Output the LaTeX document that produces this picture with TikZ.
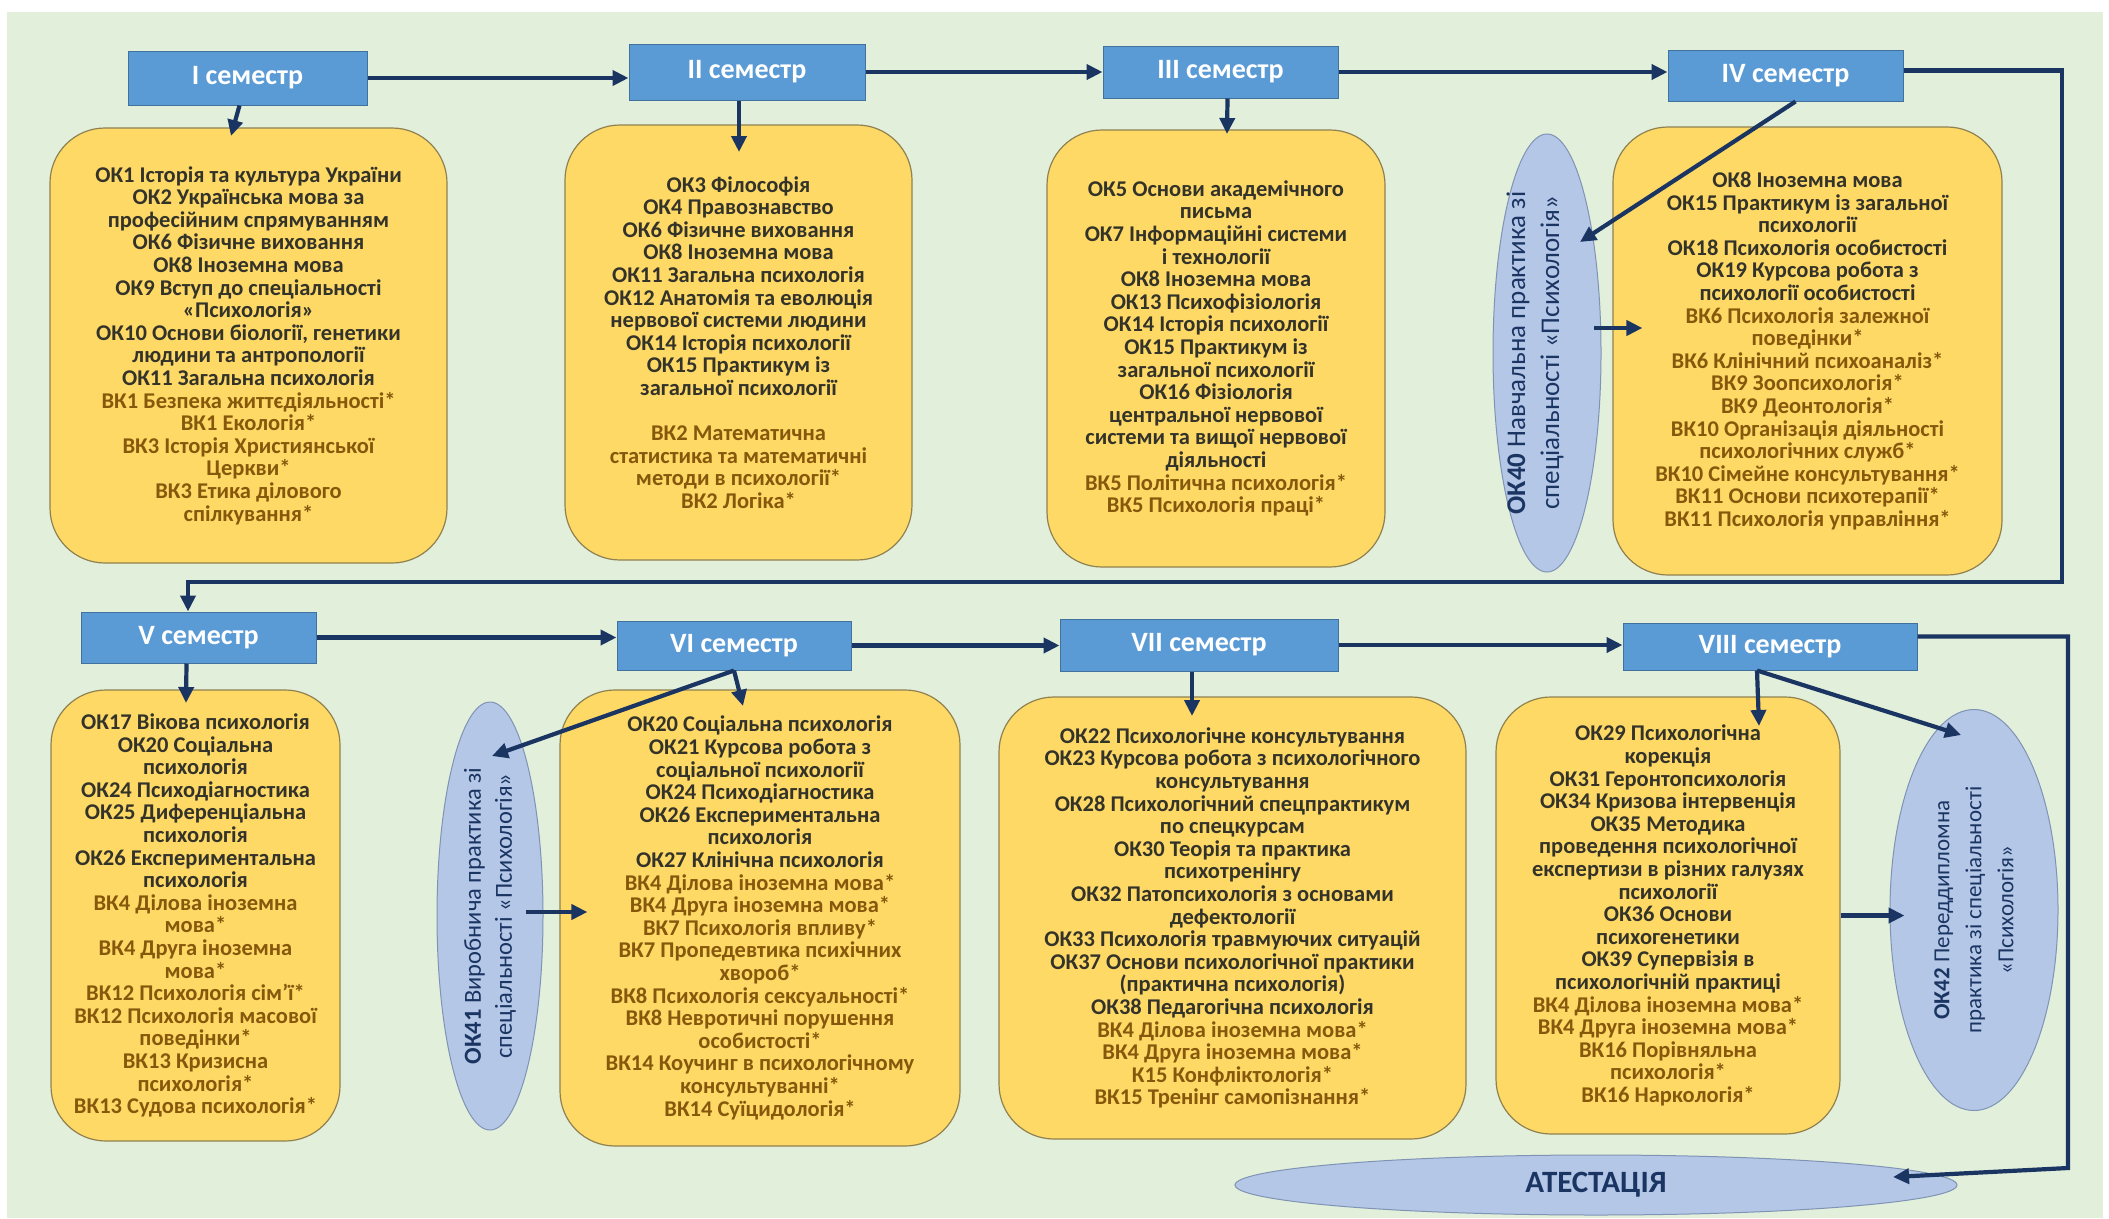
\documentclass[tikz,border=0pt]{standalone}
\usepackage{fontspec}
\setmainfont{Carlito}
\usetikzlibrary{shapes.geometric,arrows.meta}

\definecolor{panelgreen}{HTML}{E2EFDA}
\definecolor{semblue}{HTML}{5B9BD5}
\definecolor{semedge}{HTML}{41719C}
\definecolor{courseyellow}{HTML}{FFD966}
\definecolor{courseedge}{HTML}{8F8150}
\definecolor{ovalblue}{HTML}{B4C7E7}
\definecolor{ovaledge}{HTML}{7F93B5}
\definecolor{navy}{HTML}{1B3563}
\definecolor{okcol}{HTML}{33332A}
\definecolor{vkcol}{HTML}{85580C}

\newcommand{\vk}[1]{\textcolor{vkcol}{#1}}
\newcommand{\coursefont}{\fontsize{22.5}{22.6}\selectfont\bfseries}
\newcommand{\semfont}{\fontsize{28}{30}\selectfont\bfseries}
\newcommand{\atestfont}{\fontsize{31}{33}\selectfont\bfseries}

\begin{document}
\begin{tikzpicture}
	[
	x=1pt, y=-1pt,
	semester/.style={draw=semedge, fill=semblue, text=white, font=\semfont, inner sep=0pt, line width=1pt},
	course/.style={draw=courseedge, fill=courseyellow, text=okcol, font=\coursefont, rounded corners=55pt, align=center, inner sep=0pt, line width=1.2pt},
	practice/.style={draw=ovaledge, fill=ovalblue, shape=ellipse, inner sep=0pt, line width=1pt},
	practicetext/.style={rotate=90, align=center, text=navy},
	flow/.style={draw=navy, line width=4.2pt, -{Triangle[length=16pt,width=15pt]}}
	]
	
	% Background
	\clip (0,0) rectangle (2109,1218);
	\fill[white] (0,0) rectangle (2109,1218);
	\fill[panelgreen] (7,12) rectangle (2103,1218);
	
	% Semesters, upper row
	\node[semester, minimum width=239pt, minimum height=54pt](sem1) at (247.5,78){I семестр};
	\node[semester, minimum width=236pt, minimum height=56pt](sem2) at (747,72){II семестр};
	\node[semester, minimum width=235pt, minimum height=52pt](sem3) at (1220.5,72){III семестр};
	\node[semester, minimum width=235pt, minimum height=51pt](sem4) at (1785.5,75.5){IV семестр};
	
	% Semesters, lower row
	\node[semester, minimum width=235pt, minimum height=51pt](sem5) at (198.5,637.5){V семестр};
	\node[semester, minimum width=234pt, minimum height=49pt](sem6) at (734,645.5){VI семестр};
	\node[semester, minimum width=278pt, minimum height=52pt](sem7) at (1199,645){VII семестр};
	\node[semester, minimum width=294pt, minimum height=47pt](sem8) at (1770,646.5){VIII семестр};
	
	% Course lists
	\node[course, minimum width=397pt, minimum height=435pt](list1) at (248.5,345.5){
		ОК1 Історія та культура України\\
		ОК2 Українська мова за\\
		професійним спрямуванням\\
		ОК6 Фізичне виховання\\
		ОК8 Іноземна мова\\
		ОК9 Вступ до спеціальності\\
		«Психологія»\\
		ОК10 Основи біології, генетики\\
		людини та антропології\\
		ОК11 Загальна психологія\\
		\vk{ВК1 Безпека життєдіяльності*}\\
		\vk{ВК1 Екологія*}\\
		\vk{ВК3 Історія Християнської}\\
		\vk{Церкви*}\\
		\vk{ВК3 Етика ділового}\\
		\vk{спілкування*}};
	\node[course, minimum width=347pt, minimum height=435pt](list2) at (738.5,342.5){
		ОК3 Філософія\\
		ОК4 Правознавство\\
		ОК6 Фізичне виховання\\
		ОК8 Іноземна мова\\
		ОК11 Загальна психологія\\
		ОК12 Анатомія та еволюція\\
		нервової системи людини\\
		ОК14 Історія психології\\
		ОК15 Практикум із\\
		загальної психології\\[22.6pt]
		\vk{ВК2 Математична}\\
		\vk{статистика та математичні}\\
		\vk{методи в психології*}\\
		\vk{ВК2 Логіка*}};
	\node[course, minimum width=338pt, minimum height=437pt](list3) at (1216,348.5){
		ОК5 Основи академічного\\
		письма\\
		ОК7 Інформаційні системи\\
		і технології\\
		ОК8 Іноземна мова\\
		ОК13 Психофізіологія\\
		ОК14 Історія психології\\
		ОК15 Практикум із\\
		загальної психології\\
		ОК16 Фізіологія\\
		центральної нервової\\
		системи та вищої нервової\\
		діяльності\\
		\vk{ВК5 Політична психологія*}\\
		\vk{ВК5 Психологія праці*}};
	\node[course, minimum width=389pt, minimum height=448pt](list4) at (1807.5,351){
		ОК8 Іноземна мова\\
		ОК15 Практикум із загальної\\
		психології\\
		ОК18 Психологія особистості\\
		ОК19 Курсова робота з\\
		психології особистості\\
		\vk{ВК6 Психологія залежної}\\
		\vk{поведінки*}\\
		\vk{ВК6 Клінічний психоаналіз*}\\
		\vk{ВК9 Зоопсихологія*}\\
		\vk{ВК9 Деонтологія*}\\
		\vk{ВК10 Організація діяльності}\\
		\vk{психологічних служб*}\\
		\vk{ВК10 Сімейне консультування*}\\
		\vk{ВК11 Основи психотерапії*}\\
		\vk{ВК11 Психологія управління*}};
	\node[course, minimum width=289pt, minimum height=451pt](list5) at (195.5,915.5){
		ОК17 Вікова психологія\\
		ОК20 Соціальна\\
		психологія\\
		ОК24 Психодіагностика\\
		ОК25 Диференціальна\\
		психологія\\
		ОК26 Експериментальна\\
		психологія\\
		\vk{ВК4 Ділова іноземна}\\
		\vk{мова*}\\
		\vk{ВК4 Друга іноземна}\\
		\vk{мова*}\\
		\vk{ВК12 Психологія сім’ї*}\\
		\vk{ВК12 Психологія масової}\\
		\vk{поведінки*}\\
		\vk{ВК13 Кризисна}\\
		\vk{психологія*}\\
		\vk{ВК13 Судова психологія*}};
	\node[course, minimum width=400pt, minimum height=456pt](list6) at (760,918){
		ОК20 Соціальна психологія\\
		ОК21 Курсова робота з\\
		соціальної психології\\
		ОК24 Психодіагностика\\
		ОК26 Експериментальна\\
		психологія\\
		ОК27 Клінічна психологія\\
		\vk{ВК4 Ділова іноземна мова*}\\
		\vk{ВК4 Друга іноземна мова*}\\
		\vk{ВК7 Психологія впливу*}\\
		\vk{ВК7 Пропедевтика психічних}\\
		\vk{хвороб*}\\
		\vk{ВК8 Психологія сексуальності*}\\
		\vk{ВК8 Невротичні порушення}\\
		\vk{особистості*}\\
		\vk{ВК14 Коучинг в психологічному}\\
		\vk{консультуванні*}\\
		\vk{ВК14 Суїцидологія*}};
	\node[course, minimum width=467pt, minimum height=442pt](list7) at (1232.5,918){
		ОК22 Психологічне консультування\\
		ОК23 Курсова робота з психологічного\\
		консультування\\
		ОК28 Психологічний спецпрактикум\\
		по спецкурсам\\
		ОК30 Теорія та практика\\
		психотренінгу\\
		ОК32 Патопсихологія з основами\\
		дефектології\\
		ОК33 Психологія травмуючих ситуацій\\
		ОК37 Основи психологічної практики\\
		(практична психологія)\\
		ОК38 Педагогічна психологія\\
		\vk{ВК4 Ділова іноземна мова*}\\
		\vk{ВК4 Друга іноземна мова*}\\
		\vk{К15 Конфліктологія*}\\
		\vk{ВК15 Тренінг самопізнання*}};
	\node[course, minimum width=344pt, minimum height=437pt](list8) at (1668,915.5){
		ОК29 Психологічна\\
		корекція\\
		ОК31 Геронтопсихологія\\
		ОК34 Кризова інтервенція\\
		ОК35 Методика\\
		проведення психологічної\\
		експертизи в різних галузях\\
		психології\\
		ОК36 Основи\\
		психогенетики\\
		ОК39 Супервізія в\\
		психологічній практиці\\
		\vk{ВК4 Ділова іноземна мова*}\\
		\vk{ВК4 Друга іноземна мова*}\\
		\vk{ВК16 Порівняльна}\\
		\vk{психологія*}\\
		\vk{ВК16 Наркологія*}};
	
	% Practices and attestation
	\node[practice, minimum width=108pt, minimum height=438pt,
		label={[xshift=-12pt, practicetext, font=\fontsize{27}{34}\selectfont]center:{\textbf{ОК40} Навчальна практика зі\\спеціальності «Психологія»}}](prac40) at (1547,353){};
	\node[practice, minimum width=106pt, minimum height=428pt,
		label={[practicetext, font=\fontsize{24.5}{31}\selectfont]center:{\textbf{ОК41} Виробнича практика зі\\спеціальності «Психологія»}}](prac41) at (490,916){};
	\node[practice, minimum width=168pt, minimum height=401pt,
		label={[practicetext, font=\fontsize{23}{32}\selectfont]center:{\textbf{ОК42} Переддипломна\\практика зі спеціальності\\«Психологія»}}](prac42) at (1974,910){};
	\node[practice, minimum width=722pt, minimum height=60pt, text=navy, font=\atestfont](atest) at (1596,1185){АТЕСТАЦІЯ};
	
	% Arrow ends
	\coordinate (in1) at (231,136);
	\coordinate (in2) at (739,152);
	\coordinate (in3) at (1227,134);
	\coordinate (in40) at (1580,242);
	\coordinate (out40) at (1594,328);
	\coordinate (in5) at (186,703);
	\coordinate (in6) at (743,706);
	\coordinate (in41) at (492,756);
	\coordinate (out41) at (526,912);
	\coordinate (in7) at (1192,716);
	\coordinate (in8) at (1759,726);
	\coordinate (in42) at (1961,735);
	\coordinate (loopA) at (2062,582);
	\coordinate (loopB) at (188,582);
	\coordinate (loopC) at (2068,1168);
	\coordinate (atestin) at (1893,1177);
	
	% From semester to semester
	\draw[flow] (sem1.east) -- (sem1.east -| sem2.west);
	\draw[flow] (sem2.east) -- (sem2.east -| sem3.west);
	\draw[flow] (sem3.east) -- (sem3.east -| sem4.west);
	\draw[flow] ([yshift=5pt]sem4.east) -- ([yshift=5pt]sem4.east -| loopA) -- (loopA) -- (loopB) -- (loopB |- sem5.north);
	\draw[flow] (sem5.east) -- (sem5.east -| sem6.west);
	\draw[flow] (sem6.east) -- (sem6.east -| sem7.west);
	\draw[flow] (sem7.east) -- (sem7.east -| sem8.west);
	\draw[flow] ([yshift=10pt]sem8.east) -- ([yshift=10pt]sem8.east -| loopC) -- (loopC) -- (atestin);
	
	% From semester to its courses
	\draw[flow] ([xshift=-8pt]sem1.south) -- (in1);
	\draw[flow] ([xshift=-8pt]sem2.south) -- (in2);
	\draw[flow] ([xshift=7pt]sem3.south) -- (in3);
	\draw[flow] ([xshift=10pt]sem4.south) -- (in40);
	\draw[flow, shorten >=-30pt] (out40) -- (out40 -| list4.west);
	\draw[flow] ([xshift=-12pt]sem5.south) -- (in5);
	\draw[flow] (sem6.south) -- (in6);
	\draw[flow] (sem6.south) -- (in41);
	\draw[flow, shorten >=-28pt] (out41) -- (out41 -| list6.west);
	\draw[flow] ([xshift=-7pt]sem7.south) -- (in7);
	\draw[flow] ([xshift=-13pt]sem8.south) -- (in8);
	\draw[flow] ([xshift=-13pt]sem8.south) -- (in42);
	\draw[flow, shorten >=-15pt] (list8.east) -- (list8.east -| prac42.west);
\end{tikzpicture}
\end{document}
